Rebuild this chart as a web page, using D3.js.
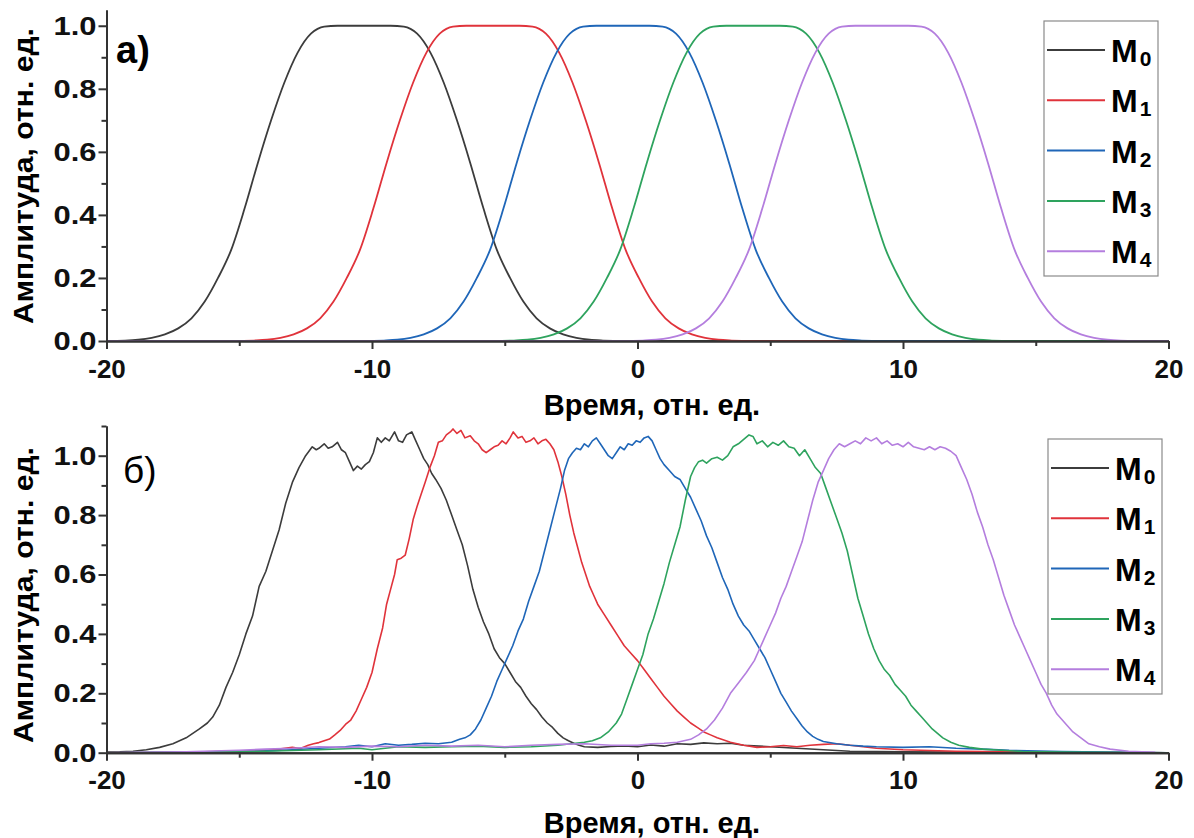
<!DOCTYPE html>
<html>
<head>
<meta charset="utf-8">
<script src="https://cdn.jsdelivr.net/npm/d3@7"></script>
<style>
  body { margin: 0; background: #fff; }
  svg { display: block; font-family: "Liberation Sans", Arial, sans-serif; }
  .axis path, .axis line { stroke: #333; stroke-width: 2; }
  .axis text { font-size: 26px; font-weight: bold; fill: #111; }
</style>
</head>
<body>
<svg id="chart" width="1194" height="838"></svg>
<script>
// series names / colours
const seriesNames = ["0", "1", "2", "3", "4"];
const seriesColors = ["#3c3c3c", "#e0333b", "#1f66b8", "#2ea35e", "#b47ede"];

// tick values
const xTicks = [-20, -10, 0, 10, 20];
const xMinor = [-15, -5, 5, 15];
const yTicks = [0, 0.2, 0.4, 0.6, 0.8, 1.0];
const yMinor = [0.1, 0.3, 0.5, 0.7, 0.9];
const yMinorB = [0.1, 0.3, 0.5, 0.7, 0.9, 1.1];

// panel а) : smooth pulses [time, amplitude]
const topM0 = [[-20,0.0005],[-19.3,0.0015],[-18.8,0.004],[-18.3,0.01],[-17.8,0.021],[-17.3,0.04],[-16.8,0.072],[-16.3,0.125],[-15.8,0.20],[-15.3,0.29],[-14.8,0.42],[-14.3,0.565],[-13.8,0.70],[-13.3,0.82],[-12.8,0.915],[-12.3,0.975],[-12.05,0.99],[-11.8,0.997],[-11.3,1],[-10.8,1],[-10.3,1],[-9.8,1],[-9.3,1],[-8.8,0.997],[-8.55,0.99],[-8.3,0.975],[-7.8,0.915],[-7.3,0.82],[-6.8,0.70],[-6.3,0.565],[-5.8,0.42],[-5.3,0.29],[-4.8,0.20],[-4.3,0.125],[-3.8,0.072],[-3.3,0.04],[-2.8,0.021],[-2.3,0.01],[-1.8,0.004],[-1.3,0.0015],[-0.5,0],[20,0]];
const topM1 = [[-20,0],[-15.2,0],[-14.45,0.0015],[-13.95,0.004],[-13.45,0.01],[-12.95,0.021],[-12.45,0.04],[-11.95,0.072],[-11.45,0.125],[-10.95,0.20],[-10.45,0.29],[-9.95,0.42],[-9.45,0.565],[-8.95,0.70],[-8.45,0.82],[-7.95,0.915],[-7.45,0.975],[-7.2,0.99],[-6.95,0.997],[-6.45,1],[-5.95,1],[-5.45,1],[-4.95,1],[-4.45,1],[-3.95,0.997],[-3.7,0.99],[-3.45,0.975],[-2.95,0.915],[-2.45,0.82],[-1.95,0.70],[-1.45,0.565],[-0.95,0.42],[-0.45,0.29],[0.05,0.20],[0.55,0.125],[1.05,0.072],[1.55,0.04],[2.05,0.021],[2.55,0.01],[3.05,0.004],[3.55,0.0015],[4.3,0],[20,0]];
const topM2 = [[-20,0],[-10.3,0],[-9.55,0.0015],[-9.05,0.004],[-8.55,0.01],[-8.05,0.021],[-7.55,0.04],[-7.05,0.072],[-6.55,0.125],[-6.05,0.20],[-5.55,0.29],[-5.05,0.42],[-4.55,0.565],[-4.05,0.70],[-3.55,0.82],[-3.05,0.915],[-2.55,0.975],[-2.3,0.99],[-2.05,0.997],[-1.55,1],[-1.05,1],[-0.55,1],[-0.05,1],[0.45,1],[0.95,0.997],[1.2,0.99],[1.45,0.975],[1.95,0.915],[2.45,0.82],[2.95,0.70],[3.45,0.565],[3.95,0.42],[4.45,0.29],[4.95,0.20],[5.45,0.125],[5.95,0.072],[6.45,0.04],[6.95,0.021],[7.45,0.01],[7.95,0.004],[8.45,0.0015],[9.2,0],[20,0]];
const topM3 = [[-20,0],[-5.4,0],[-4.65,0.0015],[-4.15,0.004],[-3.65,0.01],[-3.15,0.021],[-2.65,0.04],[-2.15,0.072],[-1.65,0.125],[-1.15,0.20],[-0.65,0.29],[-0.15,0.42],[0.35,0.565],[0.85,0.70],[1.35,0.82],[1.85,0.915],[2.35,0.975],[2.6,0.99],[2.85,0.997],[3.35,1],[3.85,1],[4.35,1],[4.85,1],[5.35,1],[5.85,0.997],[6.1,0.99],[6.35,0.975],[6.85,0.915],[7.35,0.82],[7.85,0.70],[8.35,0.565],[8.85,0.42],[9.35,0.29],[9.85,0.20],[10.35,0.125],[10.85,0.072],[11.35,0.04],[11.85,0.021],[12.35,0.01],[12.85,0.004],[13.35,0.0015],[14.1,0],[20,0]];
const topM4 = [[-20,0],[-0.5,0],[0.2,0.0015],[0.7,0.004],[1.2,0.01],[1.7,0.021],[2.2,0.04],[2.7,0.072],[3.2,0.125],[3.7,0.20],[4.2,0.29],[4.7,0.42],[5.2,0.565],[5.7,0.70],[6.2,0.82],[6.7,0.915],[7.2,0.975],[7.45,0.99],[7.7,0.997],[8.2,1],[8.7,1],[9.2,1],[9.7,1],[10.2,1],[10.7,0.997],[10.95,0.99],[11.2,0.975],[11.7,0.915],[12.2,0.82],[12.7,0.70],[13.2,0.565],[13.7,0.42],[14.2,0.29],[14.7,0.20],[15.2,0.125],[15.7,0.072],[16.2,0.04],[16.7,0.021],[17.2,0.01],[17.7,0.004],[18.2,0.0015],[19,0.0005],[20,0]];

// panel б) : measured (noisy) pulses [time, amplitude]
const botM0 = [[-20,0.002],[-19.5,0.003],[-19,0.005],[-18.5,0.01],[-18,0.018],[-17.5,0.03],[-17,0.05],[-16.5,0.08],[-16.2,0.1],[-16,0.12],[-15.75,0.16],[-15.5,0.22],[-15.25,0.27],[-15,0.33],[-14.75,0.40],[-14.5,0.46],[-14.25,0.56],[-14,0.61],[-13.75,0.68],[-13.5,0.75],[-13.25,0.84],[-13,0.91],[-12.75,0.96],[-12.5,1.0],[-12.25,1.03],[-12.1,1.02],[-12,1.025],[-11.8,1.04],[-11.65,1.025],[-11.5,1.03],[-11.3,1.045],[-11.15,1.02],[-11,1.01],[-10.85,0.98],[-10.7,0.95],[-10.55,0.965],[-10.4,0.955],[-10.25,0.97],[-10.1,0.98],[-9.95,1.01],[-9.8,1.06],[-9.65,1.045],[-9.5,1.06],[-9.35,1.05],[-9.15,1.08],[-9,1.05],[-8.85,1.045],[-8.7,1.07],[-8.5,1.08],[-8.35,1.05],[-8.2,1.02],[-8.05,0.99],[-7.9,0.97],[-7.75,0.94],[-7.6,0.92],[-7.4,0.89],[-7.2,0.85],[-7,0.8],[-6.8,0.75],[-6.6,0.7],[-6.4,0.63],[-6.2,0.55],[-6,0.49],[-5.8,0.44],[-5.6,0.40],[-5.4,0.35],[-5.2,0.32],[-5,0.30],[-4.8,0.27],[-4.6,0.24],[-4.4,0.22],[-4.2,0.19],[-4,0.165],[-3.8,0.145],[-3.6,0.12],[-3.4,0.1],[-3.2,0.085],[-3,0.065],[-2.8,0.05],[-2.6,0.04],[-2.4,0.032],[-2.2,0.025],[-2,0.02],[-1.5,0.018],[-1,0.021],[-0.5,0.023],[0,0.02],[0.5,0.026],[1,0.022],[1.5,0.03],[2,0.028],[2.5,0.033],[3,0.03],[3.5,0.032],[4,0.025],[5,0.02],[6,0.015],[7,0.01],[8,0.005],[10,0.003],[12,0.002],[15,0.001],[20,0]];
const botM1 = [[-20,0],[-17,0.002],[-15,0.005],[-14,0.008],[-13.5,0.012],[-13,0.018],[-12.7,0.014],[-12.4,0.025],[-12.2,0.03],[-12,0.034],[-11.8,0.04],[-11.6,0.046],[-11.4,0.06],[-11.2,0.075],[-11,0.095],[-10.8,0.11],[-10.6,0.14],[-10.4,0.18],[-10.2,0.22],[-10,0.27],[-9.8,0.35],[-9.6,0.42],[-9.45,0.5],[-9.3,0.55],[-9.15,0.6],[-9.05,0.65],[-8.9,0.655],[-8.75,0.665],[-8.6,0.72],[-8.45,0.785],[-8.3,0.83],[-8.15,0.87],[-8,0.91],[-7.8,0.965],[-7.65,1.0],[-7.5,1.045],[-7.35,1.05],[-7.2,1.07],[-7.05,1.08],[-6.95,1.09],[-6.8,1.075],[-6.65,1.085],[-6.5,1.06],[-6.3,1.067],[-6.15,1.05],[-6,1.04],[-5.85,1.02],[-5.7,1.01],[-5.55,1.02],[-5.4,1.03],[-5.25,1.035],[-5.1,1.05],[-4.95,1.04],[-4.8,1.06],[-4.68,1.08],[-4.5,1.06],[-4.35,1.065],[-4.2,1.045],[-4.05,1.05],[-3.9,1.06],[-3.75,1.04],[-3.6,1.05],[-3.45,1.055],[-3.3,1.04],[-3.15,1.02],[-3,0.98],[-2.85,0.93],[-2.7,0.87],[-2.55,0.8],[-2.4,0.74],[-2.25,0.69],[-2.1,0.64],[-1.95,0.6],[-1.8,0.56],[-1.65,0.53],[-1.5,0.5],[-1.25,0.465],[-1,0.43],[-0.75,0.395],[-0.5,0.36],[-0.25,0.335],[0,0.31],[0.25,0.28],[0.5,0.25],[0.75,0.22],[1,0.19],[1.25,0.165],[1.5,0.14],[1.75,0.12],[2,0.1],[2.25,0.085],[2.5,0.07],[2.75,0.06],[3,0.05],[3.5,0.035],[4,0.025],[4.5,0.018],[5,0.02],[5.5,0.024],[6,0.02],[6.5,0.025],[7,0.028],[7.5,0.03],[8,0.025],[9,0.015],[10,0.01],[12,0.005],[15,0.002],[20,0]];
const botM2 = [[-20,0],[-16,0.003],[-14,0.006],[-13,0.01],[-12,0.015],[-11,0.02],[-10.5,0.025],[-10,0.02],[-9.5,0.03],[-9,0.025],[-8.5,0.028],[-8,0.032],[-7.5,0.03],[-7,0.035],[-6.7,0.045],[-6.5,0.05],[-6.3,0.06],[-6.1,0.08],[-5.9,0.11],[-5.7,0.15],[-5.5,0.19],[-5.3,0.24],[-5.1,0.28],[-4.9,0.32],[-4.7,0.36],[-4.5,0.41],[-4.3,0.45],[-4.1,0.51],[-3.9,0.56],[-3.7,0.61],[-3.5,0.68],[-3.3,0.75],[-3.1,0.82],[-2.9,0.89],[-2.75,0.95],[-2.6,0.99],[-2.45,1.01],[-2.3,1.025],[-2.15,1.02],[-2,1.04],[-1.85,1.03],[-1.7,1.05],[-1.55,1.06],[-1.4,1.04],[-1.25,1.02],[-1.1,1.0],[-0.95,0.99],[-0.8,1.01],[-0.65,1.03],[-0.5,1.02],[-0.35,1.04],[-0.2,1.035],[-0.05,1.05],[0.1,1.045],[0.25,1.06],[0.4,1.065],[0.55,1.05],[0.7,1.02],[0.85,0.99],[1,0.97],[1.2,0.95],[1.4,0.93],[1.6,0.92],[1.8,0.89],[2,0.86],[2.2,0.82],[2.4,0.78],[2.6,0.73],[2.8,0.69],[3,0.64],[3.2,0.59],[3.4,0.55],[3.6,0.5],[3.8,0.46],[4,0.43],[4.2,0.41],[4.4,0.38],[4.6,0.35],[4.8,0.32],[5,0.28],[5.2,0.24],[5.4,0.2],[5.6,0.17],[5.8,0.14],[6,0.115],[6.2,0.09],[6.4,0.07],[6.6,0.055],[6.8,0.045],[7,0.038],[7.5,0.03],[8,0.025],[8.5,0.022],[9,0.02],[10,0.018],[11,0.02],[12,0.015],[13,0.012],[14,0.008],[16,0.004],[20,0]];
const botM3 = [[-20,0],[-16,0.002],[-14,0.005],[-12,0.01],[-10.5,0.015],[-10,0.01],[-9,0.02],[-8,0.018],[-7,0.02],[-6,0.022],[-5,0.018],[-4,0.02],[-3,0.025],[-2.5,0.03],[-2,0.035],[-1.7,0.04],[-1.4,0.05],[-1.1,0.07],[-0.8,0.1],[-0.6,0.13],[-0.4,0.18],[-0.2,0.23],[0,0.28],[0.2,0.33],[0.4,0.4],[0.6,0.45],[0.8,0.51],[1,0.57],[1.2,0.64],[1.4,0.7],[1.6,0.76],[1.8,0.85],[2,0.93],[2.15,0.96],[2.3,0.98],[2.45,0.985],[2.6,0.975],[2.8,0.99],[3,0.995],[3.2,0.985],[3.4,1.0],[3.6,1.03],[3.8,1.04],[4,1.055],[4.2,1.07],[4.35,1.065],[4.5,1.04],[4.7,1.05],[4.9,1.03],[5.1,1.045],[5.3,1.035],[5.5,1.05],[5.7,1.03],[5.9,1.025],[6.1,1.0],[6.3,1.02],[6.5,0.99],[6.7,0.96],[6.9,0.94],[7.1,0.89],[7.3,0.84],[7.5,0.79],[7.7,0.74],[7.9,0.68],[8.1,0.6],[8.3,0.52],[8.5,0.46],[8.7,0.4],[8.9,0.35],[9.1,0.31],[9.3,0.28],[9.5,0.26],[9.7,0.23],[9.9,0.21],[10.1,0.19],[10.3,0.16],[10.5,0.14],[10.7,0.12],[10.9,0.1],[11.1,0.08],[11.3,0.065],[11.5,0.05],[11.8,0.035],[12.1,0.025],[12.5,0.018],[13,0.012],[13.7,0.008],[14.5,0.004],[16,0.002],[20,0]];
const botM4 = [[-20,0],[-17,0.003],[-15,0.008],[-14,0.012],[-13,0.015],[-12,0.02],[-11,0.018],[-10,0.022],[-9,0.02],[-8,0.025],[-7,0.022],[-6,0.025],[-5,0.02],[-4,0.025],[-3,0.028],[-2,0.03],[-1,0.025],[0,0.025],[0.5,0.03],[1,0.032],[1.5,0.035],[2,0.045],[2.3,0.06],[2.6,0.08],[2.9,0.11],[3.2,0.15],[3.5,0.2],[3.8,0.235],[4.1,0.27],[4.4,0.31],[4.6,0.35],[4.8,0.39],[5,0.43],[5.2,0.47],[5.4,0.52],[5.6,0.56],[5.8,0.61],[6,0.66],[6.2,0.71],[6.4,0.78],[6.6,0.85],[6.8,0.91],[7,0.95],[7.2,0.99],[7.4,1.02],[7.6,1.04],[7.8,1.03],[8,1.04],[8.2,1.05],[8.4,1.04],[8.6,1.06],[8.8,1.05],[9,1.06],[9.2,1.04],[9.4,1.05],[9.6,1.035],[9.8,1.04],[10,1.03],[10.2,1.045],[10.4,1.03],[10.6,1.025],[10.8,1.02],[11,1.03],[11.2,1.02],[11.4,1.03],[11.6,1.025],[11.8,1.015],[12,1.0],[12.2,0.96],[12.4,0.92],[12.6,0.87],[12.8,0.81],[13,0.76],[13.2,0.7],[13.4,0.65],[13.6,0.59],[13.8,0.53],[14,0.48],[14.2,0.43],[14.4,0.39],[14.6,0.35],[14.8,0.31],[15,0.27],[15.2,0.23],[15.4,0.2],[15.6,0.16],[15.8,0.13],[16,0.11],[16.2,0.09],[16.4,0.07],[16.7,0.05],[17,0.03],[17.4,0.02],[17.8,0.012],[18.5,0.005],[19.5,0.001]];

const svg = d3.select("#chart");

function drawPanel(cfg) {
    const x = d3.scaleLinear().domain([-20, 20]).range([106.5, 1168.5]);
    const y = d3.scaleLinear().domain([0, cfg.yMax]).range([cfg.y0, cfg.yTop]);

    const g = svg.append("g");

    // lines
    const line = d3.line()
        .x(d => x(d[0]))
        .y(d => y(d[1]))
        .curve(cfg.curve);

    cfg.series.forEach((s, i) => {
        g.append("path")
            .attr("d", line(s))
            .attr("fill", "none")
            .attr("stroke", seriesColors[i])
            .attr("stroke-width", cfg.lineWidth)
            .attr("stroke-linejoin", "round");
    });

    // minor ticks
    g.append("g")
        .attr("class", "axis")
        .attr("transform", `translate(0,${cfg.y0})`)
        .call(d3.axisBottom(x).tickValues(xMinor).tickSize(5).tickSizeOuter(0).tickFormat(""));
    g.append("g")
        .attr("class", "axis")
        .attr("transform", `translate(106.5,0)`)
        .call(d3.axisLeft(y).tickValues(cfg.yMinor).tickSize(5).tickSizeOuter(0).tickFormat(""));

    // major axes
    g.append("g")
        .attr("class", "axis")
        .attr("transform", `translate(0,${cfg.y0})`)
        .call(d3.axisBottom(x).tickValues(xTicks).tickSize(8).tickSizeOuter(0).tickPadding(cfg.xPad).tickFormat(d => String(d)));
    g.append("g")
        .attr("class", "axis")
        .attr("transform", `translate(106.5,0)`)
        .call(d3.axisLeft(y).tickValues(yTicks).tickSize(8).tickSizeOuter(0).tickPadding(2).tickFormat(d3.format(".1f")))
        .selectAll("text")
        .attr("textLength", 43)
        .attr("lengthAdjust", "spacingAndGlyphs");

    // axis titles
    g.append("text")
        .attr("x", 652).attr("y", cfg.titleY)
        .attr("text-anchor", "middle")
        .style("font-size", "29px").style("font-weight", "bold")
        .text("Время, отн. ед.");
    g.append("text")
        .attr("transform", `translate(33,${cfg.yTitleC}) rotate(-90)`)
        .attr("text-anchor", "middle")
        .attr("textLength", 296)
        .attr("lengthAdjust", "spacingAndGlyphs")
        .style("font-size", "28px").style("font-weight", "bold")
        .text("Амплитуда, отн. ед.");

    // panel label
    g.append("text")
        .attr("x", cfg.labelX).attr("y", cfg.labelY)
        .style("font-size", cfg.labelSize).style("font-weight", cfg.labelWeight)
        .text(cfg.label);

    // legend
    const lg = g.append("g").attr("transform", `translate(${cfg.legX},${cfg.legY})`);
    lg.append("rect")
        .attr("width", 114).attr("height", 255)
        .attr("fill", "#fff").attr("stroke", "#8a8a8a").attr("stroke-width", 1.2);
    seriesNames.forEach((n, i) => {
        const yy = 29 + i * 50.3;
        lg.append("line")
            .attr("x1", 3).attr("x2", 61)
            .attr("y1", yy).attr("y2", yy)
            .attr("stroke", seriesColors[i]).attr("stroke-width", 2);
        const t = lg.append("text")
            .attr("x", 67).attr("y", yy + 12)
            .style("font-size", "32px").style("font-weight", "bold");
        t.append("tspan").text("M");
        t.append("tspan").attr("dx", 2).attr("dy", 4).style("font-size", "21px").text(n);
    });
}

drawPanel({
    y0: 341, yTop: 10, yMax: 1.05, yMinor: yMinor, xPad: 11,
    series: [topM0, topM1, topM2, topM3, topM4],
    curve: d3.curveMonotoneX, lineWidth: 1.8,
    titleY: 415, yTitleC: 176,
    label: "а)", labelX: 116, labelY: 63, labelWeight: "bold", labelSize: "38px",
    legX: 1044, legY: 21
});

drawPanel({
    y0: 752.7, yTop: 426, yMax: 1.1, yMinor: yMinorB, xPad: 10,
    series: [botM0, botM1, botM2, botM3, botM4],
    curve: d3.curveLinear, lineWidth: 1.6,
    titleY: 833, yTitleC: 595,
    label: "б)", labelX: 123, labelY: 483, labelWeight: "normal", labelSize: "37px",
    legX: 1048, legY: 439
});
</script>
</body>
</html>
